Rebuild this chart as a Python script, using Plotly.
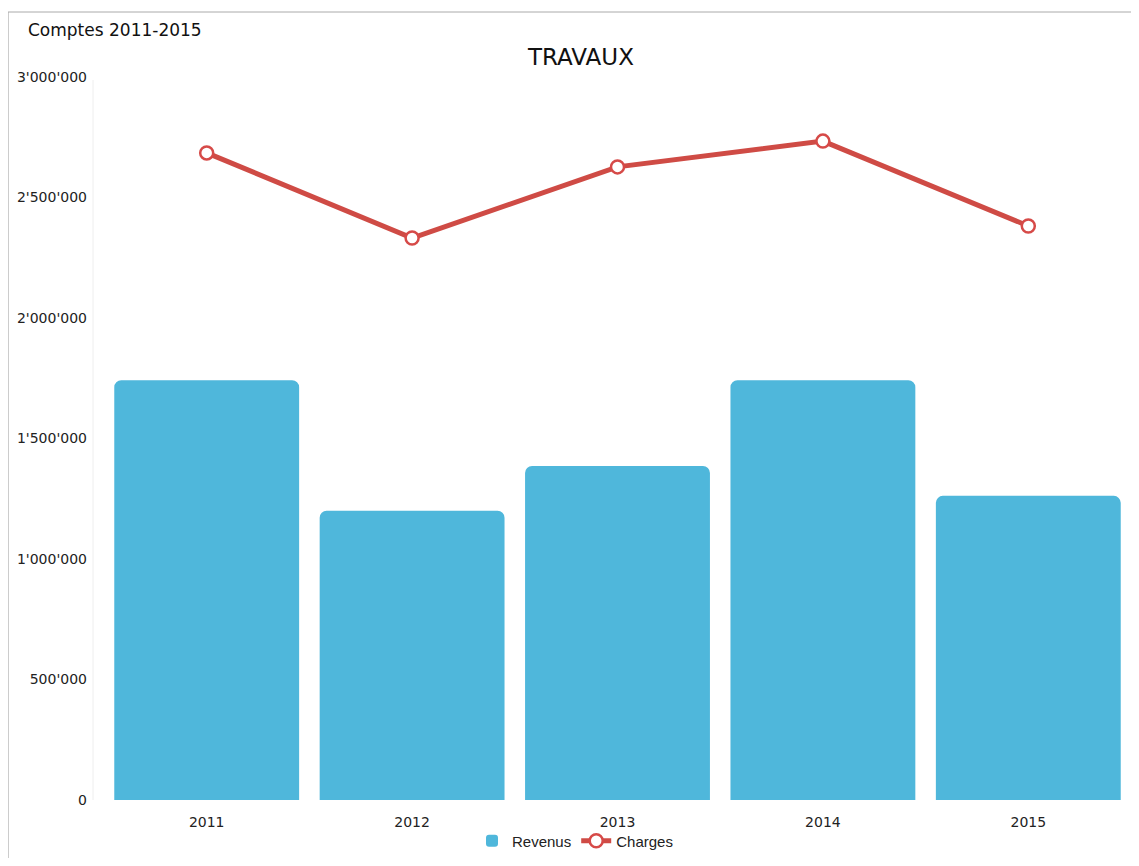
import plotly.graph_objects as go

years = ["2011", "2012", "2013", "2014", "2015"]
revenus = [1742000, 1200000, 1386000, 1742000, 1262000]
charges = [2685000, 2332000, 2627000, 2734000, 2382000]
ytick_vals = [0, 500000, 1000000, 1500000, 2000000, 2500000, 3000000]
ytick_text = ["0", "500'000", "1'000'000", "1'500'000", "2'000'000", "2'500'000", "3'000'000"]

OFF = 8  # page body margin
W, H = 1139 - 2 * OFF, 866 - 2 * OFF
# reference-pixel geometry of plot area
PL, PR, PT, PB = 104, 1131, 77, 800
L, T = PL - OFF, PT - OFF
R = W - (PR - OFF)
B = H - (PB - OFF)
pw, ph = W - L - R, H - T - B

def px(x):
    return (x - PL) / pw

def py(y):
    return 1 - (y - PT) / ph

fig = go.Figure()
fig.add_trace(go.Bar(
    x=years, y=revenus, name="Revenus",
    marker=dict(color="#4fb7db", line=dict(width=0)),
))
fig.add_trace(go.Scatter(
    x=years, y=charges, name="Charges", mode="lines+markers",
    line=dict(color="#cf4b45", width=5),
    marker=dict(size=13, color="white", line=dict(color="#d64a48", width=2.5)),
))

fig.update_layout(
    width=W, height=H,
    margin=dict(l=L, r=R, t=T, b=B),
    paper_bgcolor="white", plot_bgcolor="white",
    bargap=0.1, barcornerradius=7,
    showlegend=True,
    legend=dict(orientation="h", x=px(575), y=py(857.5), xanchor="center", yanchor="bottom",
                bgcolor="rgba(0,0,0,0)",
                font=dict(family="Liberation Sans, Arial", size=15, color="#222"),
                itemwidth=30, traceorder="normal"),
    xaxis=dict(showgrid=False, showline=False, ticks="", zeroline=False,
               ticklabelstandoff=12,
               tickfont=dict(family="DejaVu Sans, Verdana", size=14, color="#222")),
    yaxis=dict(range=[0, 3000000], tickvals=ytick_vals, ticktext=ytick_text,
               showgrid=False, zeroline=False, showline=False, ticks="",
               ticklabelstandoff=16,
               tickfont=dict(family="DejaVu Sans, Verdana", size=14, color="#222")),
    annotations=[
        dict(text="Comptes 2011-2015", xref="paper", yref="paper", x=px(26), y=py(30),
             xanchor="left", yanchor="middle", showarrow=False,
             font=dict(family="DejaVu Sans, Tahoma", size=17, color="#111")),
        dict(text="TRAVAUX", xref="paper", yref="paper", x=px(580), y=py(57),
             xanchor="center", yanchor="middle", showarrow=False,
             font=dict(family="DejaVu Sans, Verdana", size=23, color="#111")),
    ],
    shapes=[
        dict(type="line", xref="paper", yref="paper", x0=px(8), x1=px(8), y0=py(12), y1=py(858),
             line=dict(color="#999", width=1)),
        dict(type="line", xref="paper", yref="paper", x0=px(8), x1=px(1131), y0=py(12), y1=py(12),
             line=dict(color="#aaa", width=1)),
        dict(type="line", xref="paper", yref="paper", x0=px(93), x1=px(93), y0=py(80), y1=py(800),
             line=dict(color="#eee", width=1)),
    ],
)

fig.write_html("out.html")
